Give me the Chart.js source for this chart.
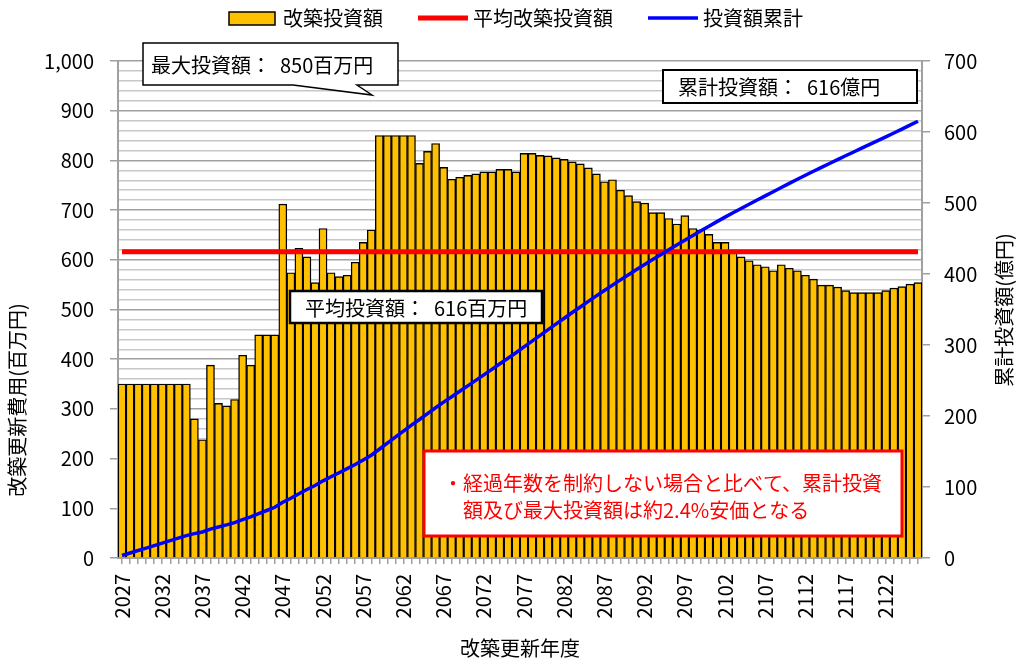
<!DOCTYPE html>
<html lang="ja">
<head>
<meta charset="utf-8">
<script src="https://cdn.jsdelivr.net/npm/chart.js@4.4.1/dist/chart.umd.min.js"></script>
<style>
  html, body { margin: 0; padding: 0; background: #fff; }
  #wrap { width: 1016px; height: 664px; }
</style>
</head>
<body>
<div id="wrap"><canvas id="myChart" width="1016" height="664"></canvas></div>
<script>
const FONT = "'Noto Sans CJK JP', 'Noto Sans', sans-serif";

const years = [
  '2027','2028','2029','2030','2031','2032','2033','2034','2035','2036',
  '2037','2038','2039','2040','2041','2042','2043','2044','2045','2046',
  '2047','2048','2049','2050','2051','2052','2053','2054','2055','2056',
  '2057','2058','2059','2060','2061','2062','2063','2064','2065','2066',
  '2067','2068','2069','2070','2071','2072','2073','2074','2075','2076',
  '2077','2078','2079','2080','2081','2082','2083','2084','2085','2086',
  '2087','2088','2089','2090','2091','2092','2093','2094','2095','2096',
  '2097','2098','2099','2100','2101','2102','2103','2104','2105','2106',
  '2107','2108','2109','2110','2111','2112','2113','2114','2115','2116',
  '2117','2118','2119','2120','2121','2122','2123','2124','2125','2126'
];

// 改築投資額 (百万円)
const investment = [
  350,350,350,350,350,350,350,350,350,280,
  238,388,311,306,319,408,388,449,449,449,
  712,574,623,606,554,663,574,566,569,595,
  635,660,850,850,850,850,850,794,818,834,
  786,762,766,770,773,777,777,782,782,777,
  814,814,810,809,805,802,797,793,785,773,
  757,761,740,729,717,714,695,695,683,672,
  689,663,660,651,635,635,615,606,598,590,
  586,578,590,583,578,569,561,549,549,545,
  538,534,534,534,534,538,543,546,551,554
];

// 投資額累計 (億円)
const cumulative = [
  3.5,7.0,10.5,14.0,17.5,21.0,24.5,28.0,31.5,34.3,
  36.7,40.6,43.7,46.7,49.9,54.0,57.9,62.4,66.9,71.4,
  78.5,84.2,90.4,96.5,102.0,108.7,114.4,120.1,125.8,131.7,
  138.1,144.7,153.2,161.7,170.2,178.7,187.2,195.1,203.3,211.6,
  219.5,227.1,234.8,242.5,250.2,258.0,265.7,273.6,281.4,289.1,
  297.3,305.4,313.5,321.6,329.7,337.7,345.7,353.6,361.4,369.2,
  376.7,384.3,391.7,399.0,406.2,413.3,420.3,427.2,434.1,440.8,
  447.7,454.3,460.9,467.4,473.8,480.1,486.3,492.3,498.3,504.2,
  510.1,515.9,521.8,527.6,533.4,539.1,544.7,550.2,555.6,561.1,
  566.5,571.8,577.2,582.5,587.8,593.2,598.6,604.1,609.6,615.2
];

// 平均改築投資額 (百万円)
const average = 616;
const averageLine = years.map(() => average);

// legend, axis titles and text boxes
const notes = {
  id: 'notes',
  afterDraw(chart) {
    const ctx = chart.ctx;
    ctx.save();
    ctx.font = '20px ' + FONT;
    ctx.textBaseline = 'middle';

    // legend
    let x = 229;
    const ly = 18;
    chart.data.datasets.forEach(ds => {
      if (ds.type === 'bar') {
        ctx.fillStyle = ds.backgroundColor;
        ctx.fillRect(x, ly - 6, 46, 13);
        ctx.strokeStyle = '#000';
        ctx.lineWidth = 1.5;
        ctx.strokeRect(x, ly - 6, 46, 13);
        x += 54;
      } else {
        ctx.strokeStyle = ds.borderColor;
        ctx.lineWidth = ds.borderWidth;
        ctx.beginPath();
        ctx.moveTo(x, ly);
        ctx.lineTo(x + 50, ly);
        ctx.stroke();
        x += 55;
      }
      ctx.fillStyle = '#000';
      ctx.textAlign = 'left';
      ctx.fillText(ds.label, x, ly);
      x += ctx.measureText(ds.label).width + 35;
    });

    // axis titles
    ctx.textAlign = 'center';
    ctx.save();
    ctx.translate(17, 400);
    ctx.rotate(-Math.PI / 2);
    ctx.fillText('改築更新費用(百万円)', 0, 0);
    ctx.restore();
    ctx.save();
    ctx.translate(1004, 310);
    ctx.rotate(-Math.PI / 2);
    ctx.fillText('累計投資額(億円)', 0, 0);
    ctx.restore();

    ctx.textAlign = 'left';
    // 最大投資額 callout
    ctx.fillStyle = '#fff';
    ctx.strokeStyle = '#000';
    ctx.lineWidth = 1.5;
    ctx.beginPath();
    ctx.moveTo(143, 43);
    ctx.lineTo(398, 43);
    ctx.lineTo(398, 85);
    ctx.lineTo(357, 85);
    ctx.lineTo(372, 95);
    ctx.lineTo(293, 85);
    ctx.lineTo(143, 85);
    ctx.closePath();
    ctx.fill();
    ctx.stroke();
    ctx.fillStyle = '#000';
    ctx.fillText('最大投資額：  850百万円', 151, 65);

    // 累計投資額 box
    ctx.fillStyle = '#fff';
    ctx.fillRect(663, 70, 254, 33);
    ctx.lineWidth = 2;
    ctx.strokeRect(663, 70, 254, 33);
    ctx.fillStyle = '#000';
    ctx.fillText('累計投資額：  616億円', 678, 87);

    // 平均投資額 box
    ctx.fillStyle = '#fff';
    ctx.fillRect(290, 291, 252, 32);
    ctx.lineWidth = 2.5;
    ctx.strokeRect(290, 291, 252, 32);
    ctx.fillStyle = '#000';
    ctx.fillText('平均投資額：  616百万円', 305, 308);

    // comment box
    ctx.fillStyle = '#fff';
    ctx.fillRect(424, 451, 478, 85);
    ctx.strokeStyle = '#ff0000';
    ctx.lineWidth = 3;
    ctx.strokeRect(424, 451, 478, 85);
    ctx.fillStyle = '#ff0000';
    ctx.fillText('・', 443, 483);
    ctx.fillText('経過年数を制約しない場合と比べて、累計投資', 463, 483);
    ctx.fillText('額及び最大投資額は約2.4%安価となる', 463, 510);

    ctx.restore();
  }
};

const ctx = document.getElementById('myChart');
const myChart = new Chart(ctx, {
  data: {
    labels: years,
    datasets: [
      {
        type: 'bar',
        label: '改築投資額',
        data: investment,
        backgroundColor: '#ffc000',
        borderColor: '#000000',
        borderWidth: 1.4,
        barPercentage: 1,
        categoryPercentage: 1,
        yAxisID: 'y',
        order: 3
      },
      {
        type: 'line',
        label: '平均改築投資額',
        data: averageLine,
        borderColor: '#ff0000',
        backgroundColor: '#ff0000',
        borderWidth: 5,
        pointRadius: 0,
        yAxisID: 'y',
        order: 2
      },
      {
        type: 'line',
        label: '投資額累計',
        data: cumulative,
        borderColor: '#0000ff',
        backgroundColor: '#0000ff',
        borderWidth: 3.5,
        pointRadius: 0,
        yAxisID: 'y1',
        order: 1
      }
    ]
  },
  options: {
    responsive: false,
    animation: false,
    layout: { padding: { top: 61, left: 0, right: 0, bottom: 0 } },
    plugins: {
      legend: { display: false },
      tooltip: { enabled: false }
    },
    scales: {
      x: {
        ticks: {
          autoSkip: false,
          maxRotation: 90,
          minRotation: 90,
          padding: 10,
          color: '#000',
          font: { family: FONT, size: 20 },
          callback: function (v, i) { return i % 5 === 0 ? this.getLabelForValue(v) : ''; }
        },
        grid: { offset: false, drawOnChartArea: false, tickLength: 6, color: '#a0a0a0', lineWidth: 1.5 },
        border: { color: '#a0a0a0', width: 2 },
        title: {
          display: true,
          text: '改築更新年度',
          color: '#000',
          font: { family: FONT, size: 20 },
          padding: { top: 4, bottom: 4 }
        },
        afterFit: s => { s.height = 106; }
      },
      y: {
        position: 'left',
        min: 0,
        max: 1000,
        ticks: {
          stepSize: 20,
          autoSkip: false,
          padding: 16,
          color: '#000',
          font: { family: FONT, size: 20 },
          callback: v => v % 100 === 0 ? v.toLocaleString('en-US') : ''
        },
        grid: {
          color: c => c.tick && c.tick.value % 100 === 0 ? '#a0a0a0' : '#c8c8c8',
          lineWidth: 1.5,
          tickLength: 8,
          tickColor: c => c.tick && c.tick.value % 100 === 0 ? '#a0a0a0' : 'rgba(0,0,0,0)'
        },
        border: { color: '#a0a0a0', width: 2 },
        afterFit: s => { s.width = 118; }
      },
      y1: {
        position: 'right',
        min: 0,
        max: 700,
        ticks: {
          stepSize: 100,
          padding: 14,
          color: '#000',
          font: { family: FONT, size: 20 }
        },
        grid: { drawOnChartArea: false, tickLength: 8, color: '#a0a0a0', lineWidth: 1.5 },
        border: { color: '#a0a0a0', width: 2 },
        afterFit: s => { s.width = 94; }
      }
    }
  },
  plugins: [notes]
});
</script>
</body>
</html>
